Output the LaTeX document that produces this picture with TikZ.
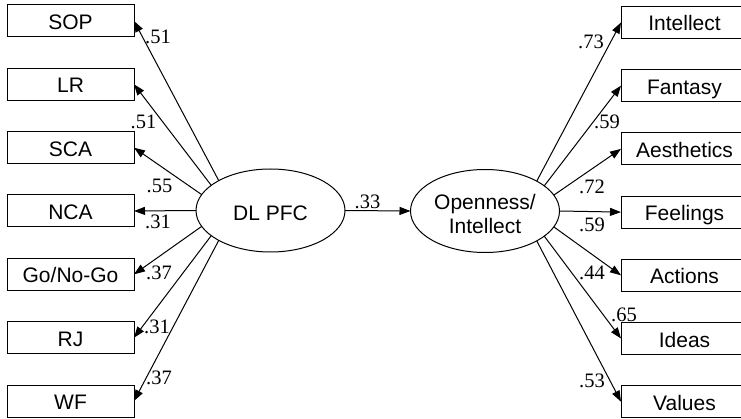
\documentclass[tikz,border=0pt]{standalone}
\usepackage{fontspec}
\setmainfont{Liberation Serif}
\setsansfont{Liberation Sans}
\usetikzlibrary{shapes.geometric,arrows.meta}
\begin{document}
\begin{tikzpicture}[x=1pt,y=-1pt,
  obs/.style={draw,line width=1pt,minimum width=127pt,minimum height=32pt,
    inner sep=0pt,outer sep=0pt,text height=17pt,text depth=0pt,
    font=\sffamily\fontsize{21}{24}\selectfont},
  lat/.style={draw,ellipse,line width=1pt,minimum width=149pt,minimum height=83pt,
    inner sep=0pt,outer sep=0pt,align=center,text depth=0pt,
    font=\sffamily\fontsize{21}{24.5}\selectfont},
  load/.style={line width=1pt,-{Triangle[length=11pt,width=8pt]}},
  coef/.style={inner sep=0pt,font=\fontsize{20.5}{24}\selectfont}
]
\useasboundingbox (0,0) rectangle (741,419);

% latent factors
\node[lat,text height=21pt] (dl) at (270.5,210.5) {DL PFC};
\node[lat,text height=46pt] (op) at (485,211) {Openness/\\Intellect};

% executive-function indicators
\node[obs] (sop) at (70.5,21)    {SOP};
\node[obs] (lr)  at (70.5,84.3)  {LR};
\node[obs] (sca) at (70.5,147.7) {SCA};
\node[obs] (nca) at (70.5,211)   {NCA};
\node[obs] (go)  at (70.5,274.3) {Go/No-Go};
\node[obs] (rj)  at (70.5,337.7) {RJ};
\node[obs] (wf)  at (70.5,401)   {WF};

% openness/intellect indicators
\node[obs] (int) at (684.5,22.5)  {Intellect};
\node[obs] (fan) at (684.5,85.7)  {Fantasy};
\node[obs] (aes) at (684.5,148.9) {Aesthetics};
\node[obs] (fee) at (684.5,212.1) {Feelings};
\node[obs] (act) at (684.5,275.3) {Actions};
\node[obs] (ide) at (684.5,338.5) {Ideas};
\node[obs] (val) at (684.5,401.7) {Values};

% loadings
\draw[load] (dl.150) -- (sop.east);
\draw[load] (dl.157) -- (lr.east);
\draw[load] (dl.167) -- (sca.east);
\draw[load] (dl.180) -- (nca.east);
\draw[load] (dl.193) -- (go.east);
\draw[load] (dl.203) -- (rj.east);
\draw[load] (dl.210) -- (wf.east);

\draw[load] (op.30)  -- (int.west);
\draw[load] (op.23)  -- (fan.west);
\draw[load] (op.13)  -- (aes.west);
\draw[load] (op.0)   -- (fee.west);
\draw[load] (op.-13) -- (act.west);
\draw[load] (op.-23) -- (ide.west);
\draw[load] (op.-30) -- (val.west);

% structural path
\draw[load] (dl.east) -- (op.west);

% coefficients
\node[coef] (c1) at (158,37)    {.51};
\node[coef] (c2) at (143.5,122) {.51};
\node[coef] (c3) at (159.5,186) {.55};
\node[coef] (c4) at (158,222)   {.31};
\node[coef] (c5) at (159,273)   {.37};
\node[coef] (c6) at (157,327)   {.31};
\node[coef] (c7) at (159,378)   {.37};
\node[coef] (c8) at (367.5,202) {.33};
\node[coef] (d1) at (591,42)    {.73};
\node[coef] (d2) at (607,122)   {.59};
\node[coef] (d3) at (592,187)   {.72};
\node[coef] (d4) at (592,225)   {.59};
\node[coef] (d5) at (592,273)   {.44};
\node[coef] (d6) at (624,315)   {.65};
\node[coef] (d7) at (592,381)   {.53};
\end{tikzpicture}
\end{document}
